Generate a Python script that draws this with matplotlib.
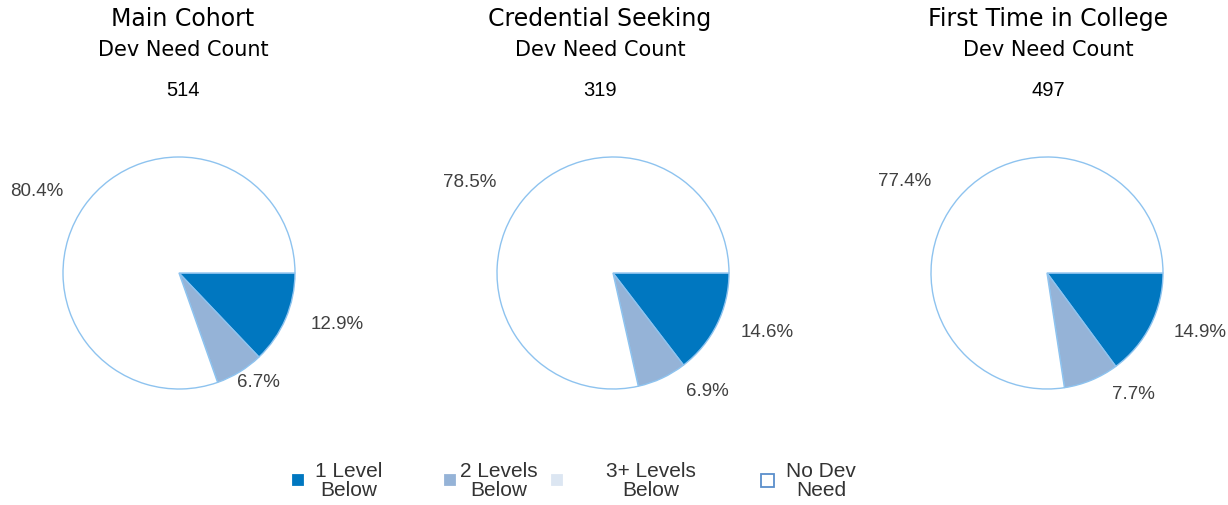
import numpy as np
import matplotlib; matplotlib.use('Agg')
import matplotlib.pyplot as plt
from matplotlib.patches import Rectangle

# data
panels = ['Main Cohort', 'Credential Seeking', 'First Time in College']
counts = [514, 319, 497]
categories = ['1 Level\nBelow', '2 Levels\nBelow', '3+ Levels\nBelow', 'No Dev\nNeed']
main_cohort = [12.9, 6.7, 0.0, 80.4]
credential = [14.6, 6.9, 0.0, 78.5]
first_time = [14.9, 7.7, 0.0, 77.4]
series = [main_cohort, credential, first_time]

colors = ['#0077C0', '#95B3D7', '#DCE6F2', '#FFFFFF']
edge = '#8EC3EF'
txt_col = '#404040'

W, H = 1228, 506
fig = plt.figure(figsize=(W / 100, H / 100), dpi=100)

# layout (pixels)
centers = [179, 613, 1047]
cy = 274
R = 116
text_x = [183, 600, 1048]
# label offsets from pie centre, px (Excel-style placement)
lab_off = [
    [(158, -51), (79, -109), None, (-142, 82)],
    [(154, -59), (94, -118), None, (-143, 91)],
    [(153, -59), (86, -121), None, (-142, 92)],
]

for i, vals in enumerate(series):
    side = 3 * R
    ax = fig.add_axes([(centers[i] - side / 2) / W, (H - cy - side / 2) / H, side / W, side / H])
    wedges, _ = ax.pie(vals, colors=colors, startangle=0, counterclock=False,
                       wedgeprops=dict(edgecolor=edge, linewidth=1))
    ax.set_xlim(-1.5, 1.5); ax.set_ylim(-1.5, 1.5)
    ax.set_aspect('equal'); ax.axis('off')
    for j, v in enumerate(vals):
        if v <= 0:
            continue
        dx, dy = lab_off[i][j]
        ax.text(dx / R, dy / R, f'{v:.1f}%', ha='center', va='center', fontsize=13.5,
                color=txt_col, family='Liberation Sans')

    fig.text(text_x[i] / W, 1 - 19 / H, panels[i], ha='center', va='center', fontsize=17, color='black')
    fig.text(text_x[i] / W, 1 - 50 / H, 'Dev Need Count', ha='center', va='center', fontsize=15, color='black')
    fig.text(text_x[i] / W, 1 - 90 / H, str(counts[i]), ha='center', va='center', fontsize=14.5,
             color='black', family='Liberation Sans')

# legend, drawn by hand to copy the uneven Excel spacing
sq_x = [298, 450, 557, 767]
lt_x = [349, 499, 651, 821]
for k, lab in enumerate(categories):
    s = 13 if colors[k] == '#FFFFFF' else 10
    ec = '#5B8FCB' if colors[k] == '#FFFFFF' else colors[k]
    fig.add_artist(Rectangle(((sq_x[k] - s / 2) / W, 1 - (481 + s / 2) / H), s / W, s / H,
                             facecolor=colors[k], edgecolor=ec, linewidth=1.3,
                             transform=fig.transFigure))
    fig.text(lt_x[k] / W, 1 - 481 / H, lab, ha='center', va='center', multialignment='center',
             fontsize=15, linespacing=0.95, color='#333333', family='Liberation Sans')

plt.savefig('out.png', dpi=100)
